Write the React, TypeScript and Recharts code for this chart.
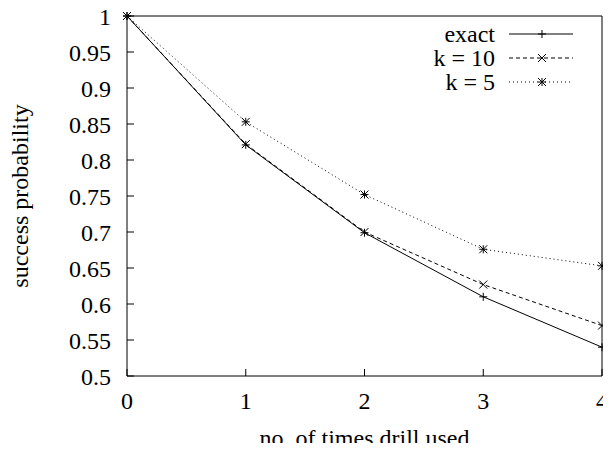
import React from 'react'
import { LineChart, Line, XAxis, YAxis, Legend } from 'recharts'

// values
const drillUses = [0, 1, 2, 3, 4]
const exactProb = [1, 0.821, 0.699, 0.61, 0.54]
const k10Prob = [1, 0.822, 0.7, 0.627, 0.57]
const k5Prob = [1, 0.853, 0.752, 0.676, 0.653]

const xTicks = [0, 1, 2, 3, 4]
const yTicks = [0.5, 0.55, 0.6, 0.65, 0.7, 0.75, 0.8, 0.85, 0.9, 0.95, 1]

const data = drillUses.map((x, i) => ({
  x,
  exact: exactProb[i],
  k10: k10Prob[i],
  k5: k5Prob[i]
}))

const FONT = '"Liberation Serif", "Times New Roman", serif'
const FS = 24
const M = 4 // marker half size

type MarkKind = 'plus' | 'cross' | 'star'

function markPath (kind: MarkKind, cx: number, cy: number) {
  const plus = `M${cx - M},${cy}H${cx + M}M${cx},${cy - M}V${cy + M}`
  const cross = `M${cx - M},${cy - M}L${cx + M},${cy + M}M${cx - M},${cy + M}L${cx + M},${cy - M}`
  if (kind === 'plus') return plus
  if (kind === 'cross') return cross
  return plus + cross
}

const makeDot = (kind: MarkKind) => (props: any) => {
  const { cx, cy, index } = props
  if (cx == null || cy == null) return <g key={`${kind}-${index}`} />
  return (
    <path key={`${kind}-${index}`} d={markPath(kind, cx, cy)} stroke="#000" strokeWidth={1} fill="none" />
  )
}

const legendRows = [
  { label: 'exact', dash: undefined, kind: 'plus' as MarkKind },
  { label: 'k = 10', dash: '4 3', kind: 'cross' as MarkKind },
  { label: 'k = 5', dash: '1 3', kind: 'star' as MarkKind }
]

function KeyBox () {
  return (
    <div style={{ fontFamily: FONT, fontSize: FS, color: '#000' }}>
      {legendRows.map((r) => (
        <div key={r.label} style={{ display: 'flex', alignItems: 'center', height: 24 }}>
          <span style={{ width: 115, textAlign: 'right', lineHeight: '24px', whiteSpace: 'nowrap' }}>{r.label}</span>
          <svg width={70} height={24} style={{ marginLeft: 14 }}>
            <line x1={0} y1={12} x2={64} y2={12} stroke="#000" strokeWidth={1} strokeDasharray={r.dash} />
            <path d={markPath(r.kind, 33, 12)} stroke="#000" strokeWidth={1} fill="none" />
          </svg>
        </div>
      ))}
    </div>
  )
}

function YLabel (props: any) {
  const vb = props.viewBox || {}
  const cy = vb.y + vb.height / 2
  return (
    <text
      x={20}
      y={cy}
      transform={`rotate(-90, 20, ${cy})`}
      textAnchor="middle"
      dominantBaseline="central"
      fontFamily={FONT}
      fontSize={FS}
      fill="#000"
    >
      success probability
    </text>
  )
}

function XLabel (props: any) {
  const vb = props.viewBox || {}
  return (
    <text
      x={vb.x + vb.width / 2}
      y={vb.y + vb.height - 5}
      textAnchor="middle"
      fontFamily={FONT}
      fontSize={FS}
      fill="#000"
    >
      no. of times drill used
    </text>
  )
}

const tickStyle = { fontFamily: FONT, fontSize: FS, fill: '#000' }

export default function App () {
  return (
    <div style={{ margin: -8 }}>
      <LineChart
        width={611}
        height={451}
        data={data}
        margin={{ top: 15, right: 8, left: 0, bottom: 0 }}
      >
        <XAxis
          dataKey="x"
          type="number"
          domain={[0, 4]}
          ticks={xTicks}
          tick={tickStyle}
          stroke="#000"
          tickSize={-7}
          tickMargin={23}
          height={75}
          label={<XLabel />}
        />
        <XAxis
          xAxisId="top"
          orientation="top"
          dataKey="x"
          type="number"
          domain={[0, 4]}
          ticks={xTicks}
          tick={false}
          stroke="#000"
          tickSize={-7}
          height={1}
        />
        <YAxis
          type="number"
          domain={[0.5, 1]}
          ticks={yTicks}
          tick={tickStyle}
          stroke="#000"
          tickSize={-7}
          tickMargin={23}
          width={127}
          interval={0}
          label={<YLabel />}
        />
        <YAxis
          yAxisId="right"
          orientation="right"
          type="number"
          domain={[0.5, 1]}
          ticks={yTicks}
          tick={false}
          stroke="#000"
          tickSize={-7}
          width={1}
          interval={0}
        />
        <Legend
          layout="vertical"
          align="center"
          verticalAlign="middle"
          content={<KeyBox />}
          wrapperStyle={{ top: 22, left: 380, width: 220 }}
        />
        <Line
          dataKey="exact"
          stroke="#000"
          strokeWidth={1}
          dot={makeDot('plus')}
          activeDot={false}
          isAnimationActive={false}
        />
        <Line
          dataKey="k10"
          stroke="#000"
          strokeWidth={1}
          strokeDasharray="4 3"
          dot={makeDot('cross')}
          activeDot={false}
          isAnimationActive={false}
        />
        <Line
          dataKey="k5"
          stroke="#000"
          strokeWidth={1}
          strokeDasharray="1 3"
          dot={makeDot('star')}
          activeDot={false}
          isAnimationActive={false}
        />
      </LineChart>
    </div>
  )
}
